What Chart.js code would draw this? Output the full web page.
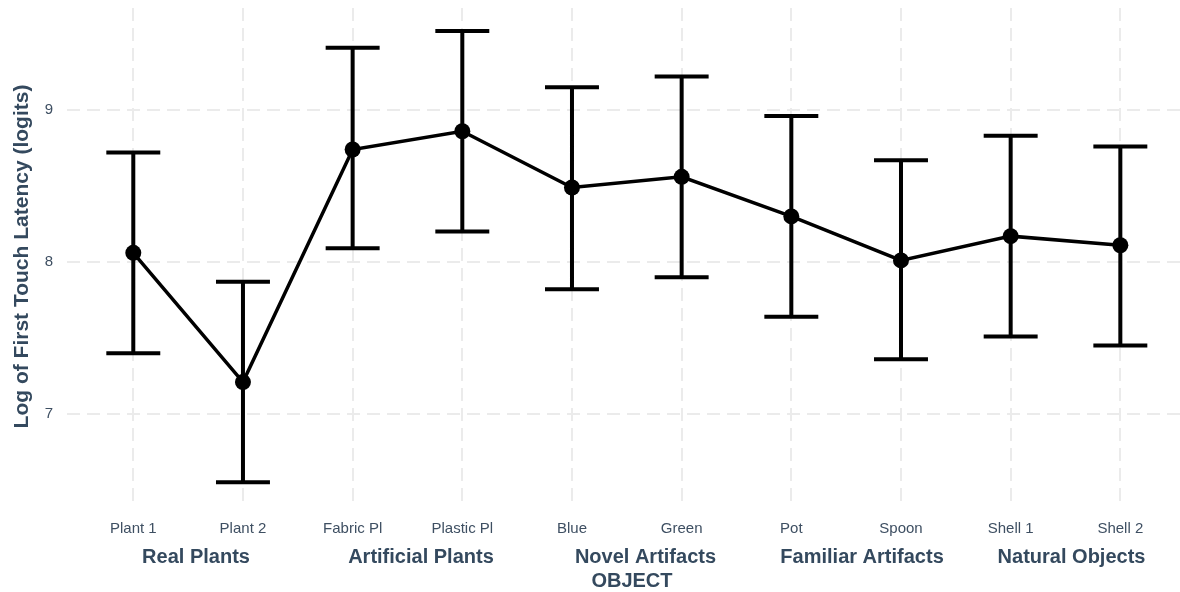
<!DOCTYPE html>
<html>
<head>
<meta charset="utf-8">
<script src="https://cdn.jsdelivr.net/npm/chart.js@4"></script>
<style>
  html, body { margin: 0; padding: 0; background: #ffffff; overflow: hidden; }
  #wrap { width: 1180px; height: 592px; overflow: hidden; }
  #c { display: block; }
</style>
</head>
<body>
<div id="wrap"><canvas id="c" width="1188" height="592"></canvas></div>
<script>
// ---- data ----
const categories = ['Plant 1', 'Plant 2', 'Fabric Pl', 'Plastic Pl', 'Blue', 'Green', 'Pot', 'Spoon', 'Shell 1', 'Shell 2'];
const means = [8.06, 7.21, 8.74, 8.86, 8.49, 8.56, 8.30, 8.01, 8.17, 8.11];
const upper = [8.72, 7.87, 9.41, 9.52, 9.15, 9.22, 8.96, 8.67, 8.83, 8.76];
const lower = [7.40, 6.55, 8.09, 8.20, 7.82, 7.90, 7.64, 7.36, 7.51, 7.45];
const groups = ['Real Plants', 'Artificial Plants', 'Novel Artifacts', 'Familiar Artifacts', 'Natural Objects'];
const yTicks = [7, 8, 9];
const xTitle = 'OBJECT';
const yTitle = 'Log of First Touch Latency (logits)';

// ---- layout / style constants ----
const groupAt = [1.572, 3.623, 5.670, 7.645, 9.555];
const xTitleAt = 5.547;
const capHalf = 0.246;
const FONT = "'Liberation Sans', Arial, Helvetica, sans-serif";
const tickColor = '#3e4f62';
const boldColor = '#34495e';
const gridColor = '#ebebeb';

const meanPts = categories.map((c, i) => ({ x: i + 1, y: means[i] }));
const barPts = [];
const capPts = [];
categories.forEach((c, i) => {
  const x = i + 1;
  barPts.push({ x: x, y: lower[i] }, { x: x, y: upper[i] }, { x: x, y: null });
  capPts.push({ x: x - capHalf, y: upper[i] }, { x: x + capHalf, y: upper[i] }, { x: x, y: null });
  capPts.push({ x: x - capHalf, y: lower[i] }, { x: x + capHalf, y: lower[i] }, { x: x, y: null });
});

function fitX(h) {
  return (s) => { s.height = h; s.paddingLeft = 0; s.paddingRight = 0; s.paddingTop = 0; s.paddingBottom = 0; };
}

new Chart(document.getElementById('c'), {
  type: 'scatter',
  data: {
    datasets: [
      { data: meanPts, showLine: true, borderColor: '#000', backgroundColor: '#000',
        borderWidth: 3.5, pointRadius: 8, pointBorderWidth: 0, pointHoverRadius: 8, order: 0 },
      { data: barPts, showLine: true, spanGaps: false, borderColor: '#000', borderWidth: 4,
        borderCapStyle: 'butt', pointRadius: 0, pointHoverRadius: 0, order: 1 },
      { data: capPts, showLine: true, spanGaps: false, borderColor: '#000', borderWidth: 4,
        borderCapStyle: 'butt', pointRadius: 0, pointHoverRadius: 0, order: 1 }
    ]
  },
  options: {
    responsive: false,
    animation: false,
    events: [],
    layout: { padding: { top: 8, right: 0, bottom: 0, left: 0 } },
    plugins: { legend: { display: false }, tooltip: { enabled: false } },
    scales: {
      x: {
        type: 'linear', position: 'bottom', min: 0.3955, max: 10.544,
        afterBuildTicks: (s) => { s.ticks = categories.map((c, i) => ({ value: i + 1 })); },
        afterFit: fitX(34),
        ticks: { autoSkip: false, maxRotation: 0, padding: 15, color: tickColor,
          font: { family: FONT, size: 15 },
          callback: (v) => categories[Math.round(v) - 1] },
        grid: { color: gridColor, lineWidth: 2, drawTicks: false },
        border: { display: false, dash: [13, 7] }
      },
      x2: {
        type: 'linear', position: 'bottom', min: 0.3955, max: 10.544,
        afterBuildTicks: (s) => { s.ticks = groups.map((g, i) => ({ value: groupAt[i] })); },
        afterFit: fitX(29),
        ticks: { autoSkip: false, maxRotation: 0, padding: 6, color: boldColor,
          font: { family: FONT, size: 20, weight: 'bold' },
          callback: (v, idx) => groups[idx] },
        grid: { display: false, drawTicks: false },
        border: { display: false }
      },
      x3: {
        type: 'linear', position: 'bottom', min: 0.3955, max: 10.544,
        afterBuildTicks: (s) => { s.ticks = [{ value: xTitleAt }]; },
        afterFit: fitX(24),
        ticks: { autoSkip: false, maxRotation: 0, padding: 1, color: boldColor,
          font: { family: FONT, size: 20, weight: 'bold' },
          callback: () => xTitle },
        grid: { display: false, drawTicks: false },
        border: { display: false }
      },
      y: {
        type: 'linear', min: 6.401, max: 9.671,
        afterBuildTicks: (s) => { s.ticks = yTicks.map(v => ({ value: v })); },
        afterFit: (s) => { s.width = 67; s.paddingTop = 0; s.paddingBottom = 0; s.paddingLeft = 0; s.paddingRight = 0; },
        ticks: { padding: 14, color: tickColor, font: { family: FONT, size: 15 } },
        grid: { color: gridColor, lineWidth: 2, drawTicks: false },
        border: { display: false, dash: [13, 7] },
        title: { display: true, text: yTitle, color: boldColor,
          font: { family: FONT, size: 21, weight: 'bold' }, padding: { top: 10, bottom: 10 } }
      }
    }
  }
});
</script>
</body>
</html>
